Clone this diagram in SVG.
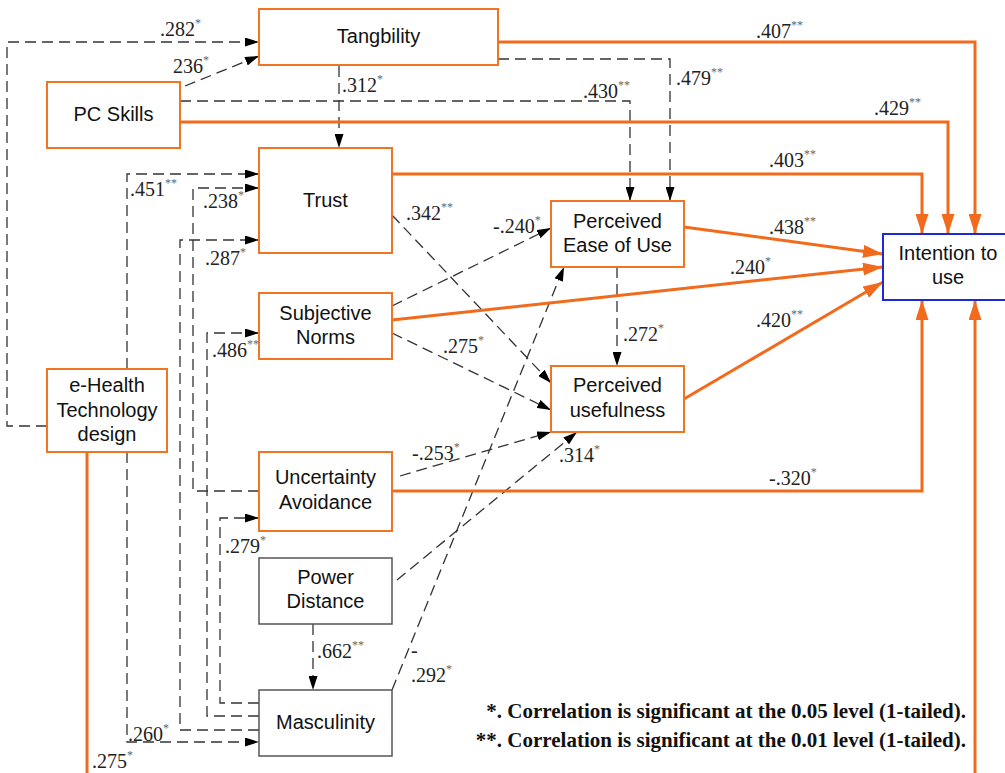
<svg xmlns="http://www.w3.org/2000/svg" width="1005" height="773" viewBox="0 0 1005 773">
<style>
.box{fill:#fff;stroke:#F07522;stroke-width:2}
.gbox{fill:#fff;stroke:#555;stroke-width:1.5}
.bbox{fill:#fff;stroke:#1F28D6;stroke-width:2}
.t{font-family:"Liberation Sans",Arial,sans-serif;font-size:20px;fill:#111;text-anchor:middle}
.d{fill:none;stroke:#333;stroke-width:1.3;stroke-dasharray:11 6;marker-end:url(#ab)}
.o{fill:none;stroke:#F26A1B;stroke-width:3;marker-end:url(#ao)}
.n{font-family:"Liberation Serif","Times New Roman",serif;font-size:20px;fill:#222}
.s{font-size:12px;fill:#666}
.f{font-family:"Liberation Serif","Times New Roman",serif;font-size:21px;font-weight:bold;fill:#111;text-anchor:end}
</style>
<defs>
<marker id="ab" markerUnits="userSpaceOnUse" markerWidth="14" markerHeight="9" refX="14" refY="4.5" orient="auto" viewBox="0 0 14 9">
<path d="M0,0 L14,4.5 L0,9 z" fill="#000"/>
</marker>
<marker id="ao" markerUnits="userSpaceOnUse" markerWidth="20" markerHeight="13" refX="20" refY="6.5" orient="auto" viewBox="0 0 20 13">
<path d="M0,0 L20,6.5 L0,13 z" fill="#F26A1B"/>
</marker>
</defs>
<rect width="1005" height="773" fill="#fff"/>
<g id="connectors">
<path class="d" d="M47,426 H7 V42 H259"/>
<path class="d" d="M185,86 L259,56"/>
<path class="d" d="M339,66 V148"/>
<path class="d" d="M180,101 H630 V201"/>
<path class="d" d="M498,59 H670 V201"/>
<path class="d" d="M127,369 V174 H259"/>
<path class="d" d="M259,491 H193 V188 H259"/>
<path class="d" d="M259,730 H180 V240 H259"/>
<path class="d" d="M259,716 H207 V333 H259"/>
<path class="d" d="M259,703 H220 V518 H259"/>
<path class="d" d="M127,452 V742 H259"/>
<path class="d" d="M313,624 V690"/>
<path class="d" d="M392,215 L551,383"/>
<path class="d" d="M392,306 L551,228"/>
<path class="d" d="M392,333 L551,410"/>
<path class="d" d="M400,476 L551,432"/>
<path class="d" d="M397,580 L577,432"/>
<path class="d" d="M392,690 L564,267"/>
<path class="d" d="M617,267 V366"/>
<path class="o" d="M498,42 H975 V234"/>
<path class="o" d="M180,122 H948 V234"/>
<path class="o" d="M392,174 H922 V234"/>
<path class="o" d="M684,227 L883,254"/>
<path class="o" d="M392,320 L883,267"/>
<path class="o" d="M684,399 L883,282"/>
<path class="o" d="M392,491 H922 V300"/>
<path class="o" d="M87,452 V778 H975 V300"/>
</g>
<g id="labels">
<text class="n" x="160" y="36">.282<tspan class="s" dy="-9">*</tspan></text>
<text class="n" x="173" y="73">236<tspan class="s" dy="-9">*</tspan></text>
<text class="n" x="342" y="92">.312<tspan class="s" dy="-9">*</tspan></text>
<text class="n" x="583" y="98">.430<tspan class="s" dy="-9">**</tspan></text>
<text class="n" x="676" y="85">.479<tspan class="s" dy="-9">**</tspan></text>
<text class="n" x="756" y="38">.407<tspan class="s" dy="-9">**</tspan></text>
<text class="n" x="874" y="115">.429<tspan class="s" dy="-9">**</tspan></text>
<text class="n" x="769" y="167">.403<tspan class="s" dy="-9">**</tspan></text>
<text class="n" x="130" y="196">.451<tspan class="s" dy="-9">**</tspan></text>
<text class="n" x="203" y="208">.238<tspan class="s" dy="-9">*</tspan></text>
<text class="n" x="205" y="265">.287<tspan class="s" dy="-9">*</tspan></text>
<text class="n" x="406" y="220">.342<tspan class="s" dy="-9">**</tspan></text>
<text class="n" x="493" y="233">-.240<tspan class="s" dy="-9">*</tspan></text>
<text class="n" x="769" y="234">.438<tspan class="s" dy="-9">**</tspan></text>
<text class="n" x="730" y="274">.240<tspan class="s" dy="-9">*</tspan></text>
<text class="n" x="212" y="357">.486<tspan class="s" dy="-9">**</tspan></text>
<text class="n" x="443" y="353">.275<tspan class="s" dy="-9">*</tspan></text>
<text class="n" x="623" y="341">.272<tspan class="s" dy="-9">*</tspan></text>
<text class="n" x="756" y="327">.420<tspan class="s" dy="-9">**</tspan></text>
<text class="n" x="412" y="460">-.253<tspan class="s" dy="-9">*</tspan></text>
<text class="n" x="559" y="462">.314<tspan class="s" dy="-9">*</tspan></text>
<text class="n" x="769" y="485">-.320<tspan class="s" dy="-9">*</tspan></text>
<text class="n" x="225" y="553">.279<tspan class="s" dy="-9">*</tspan></text>
<text class="n" x="317" y="658">.662<tspan class="s" dy="-9">**</tspan></text>
<text class="n" x="411" y="657">-</text>
<text class="n" x="411" y="682">.292<tspan class="s" dy="-9">*</tspan></text>
<text class="n" x="128" y="741">.260<tspan class="s" dy="-9">*</tspan></text>
<text class="n" x="92" y="768">.275<tspan class="s" dy="-9">*</tspan></text>
</g>
<g id="tangibility"><rect class="box" x="259" y="9" width="239" height="56"/><text class="t" x="378.5" y="43">Tangbility</text></g>
<g id="pc-skills"><rect class="box" x="47" y="82" width="133" height="66"/><text class="t" x="113.5" y="121">PC Skills</text></g>
<g id="trust"><rect class="box" x="259" y="148" width="133" height="105"/><text class="t" x="325.5" y="207">Trust</text></g>
<g id="peou"><rect class="box" x="551" y="201" width="133" height="66"/><text class="t" x="617.5" y="228">Perceived</text><text class="t" x="617.5" y="252">Ease of Use</text></g>
<g id="intention"><rect class="bbox" x="883" y="234" width="135" height="66"/><text class="t" x="948" y="260">Intention to</text><text class="t" x="948" y="284">use</text></g>
<g id="subjective-norms"><rect class="box" x="259" y="293" width="133" height="66"/><text class="t" x="325.5" y="320">Subjective</text><text class="t" x="325.5" y="344">Norms</text></g>
<g id="pu"><rect class="box" x="551" y="366" width="133" height="66"/><text class="t" x="617.5" y="392">Perceived</text><text class="t" x="617.5" y="417">usefulness</text></g>
<g id="ehealth"><rect class="box" x="47" y="369" width="120" height="83"/><text class="t" x="107" y="392">e-Health</text><text class="t" x="107" y="417">Technology</text><text class="t" x="107" y="441">design</text></g>
<g id="uncertainty"><rect class="box" x="259" y="452" width="133" height="79"/><text class="t" x="325.5" y="484">Uncertainty</text><text class="t" x="325.5" y="509">Avoidance</text></g>
<g id="power-distance"><rect class="gbox" x="259" y="558" width="133" height="66"/><text class="t" x="325.5" y="584">Power</text><text class="t" x="325.5" y="608">Distance</text></g>
<g id="masculinity"><rect class="gbox" x="259" y="690" width="133" height="66"/><text class="t" x="325.5" y="729">Masculinity</text></g>
<g id="notes">
<text class="f" x="966" y="718">*. Correlation is significant at the 0.05 level (1-tailed).</text>
<text class="f" x="966" y="747">**. Correlation is significant at the 0.01 level (1-tailed).</text>
</g>
</svg>
